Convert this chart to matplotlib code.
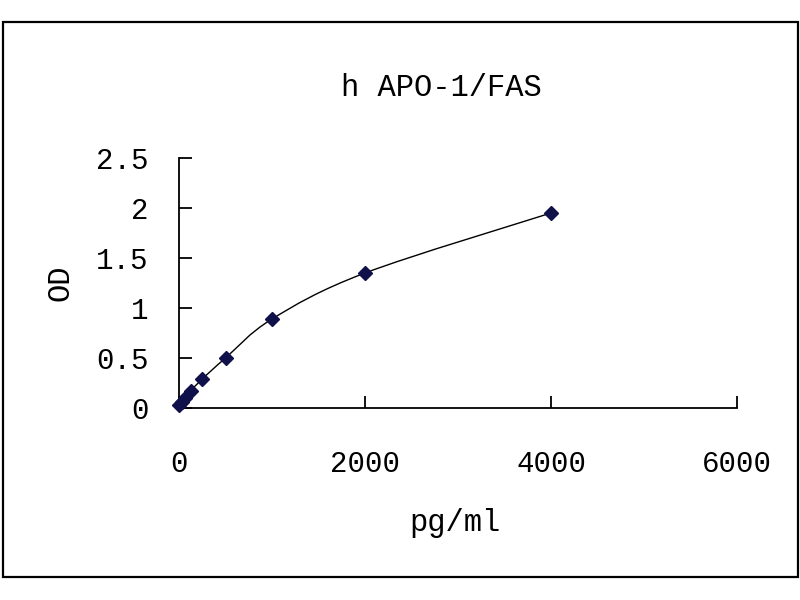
#!/usr/bin/env python3

import numpy as np
import matplotlib
matplotlib.use("Agg")
import matplotlib.pyplot as plt
from matplotlib.path import Path
from matplotlib.patches import PathPatch, Rectangle

# standard curve
conc = [0, 31.25, 62.5, 125, 250, 500, 1000, 2000, 4000]
od = [0.03, 0.06, 0.10, 0.17, 0.29, 0.50, 0.89, 1.35, 1.95]

x_ticks = [0, 2000, 4000, 6000]
y_ticks = [0, 0.5, 1, 1.5, 2, 2.5]
y_labels = ["0", "0.5", "1", "1.5", "2", "2.5"]

title = "h APO-1/FAS"
x_label = "pg/ml"
y_label = "OD"

FONT = "Liberation Mono"
plt.rcParams["font.family"] = [FONT, "DejaVu Sans Mono"]


def smooth_path(xs, ys, ax):
    # Excel-like smoothed line: Catmull-Rom tangents as cubic Bezier segments,
    # computed in display space so the curve looks the same as on screen
    pts = ax.transData.transform(np.column_stack([xs, ys]))
    n = len(pts)
    verts = [pts[0]]
    codes = [Path.MOVETO]
    t = 1.0 / 6.0
    for i in range(n - 1):
        p0 = pts[i - 1] if i > 0 else pts[i]
        p1 = pts[i]
        p2 = pts[i + 1]
        p3 = pts[i + 2] if i + 2 < n else pts[i + 1]
        c1 = p1 + (p2 - p0) * t
        c2 = p2 - (p3 - p1) * t
        verts += [c1, c2, p2]
        codes += [Path.CURVE4] * 3
    verts = ax.transData.inverted().transform(np.array(verts))
    return Path(verts, codes)


fig = plt.figure(figsize=(8, 6), dpi=100)
ax = fig.add_axes([179 / 800, 1 - 408 / 600, (737 - 179) / 800, (408 - 158) / 600])

ax.set_xlim(0, 6000)
ax.set_ylim(0, 2.5)
for side in ("top", "right"):
    ax.spines[side].set_visible(False)
for side in ("left", "bottom"):
    ax.spines[side].set_linewidth(1.3)
    ax.spines[side].set_color("black")

ax.set_xticks(x_ticks)
ax.set_xticklabels([str(v) for v in x_ticks])
ax.set_yticks(y_ticks)
ax.set_yticklabels(y_labels)
ax.tick_params(axis="both", direction="in", length=9, width=1.3, labelsize=21, colors="black")
ax.tick_params(axis="x", pad=30)
ax.tick_params(axis="y", pad=22)

patch = PathPatch(smooth_path(conc, od, ax), facecolor="none", edgecolor="black",
                  linewidth=1.0, zorder=2, clip_on=False)
ax.add_patch(patch)
ax.plot(conc, od, linestyle="none", marker="D", markersize=7,
        markerfacecolor="#10104a", markeredgecolor="#10104a", zorder=3, clip_on=False)

fig.text(441 / 800, 1 - 88 / 600, title, ha="center", va="center", fontsize=22)
fig.text(455 / 800, 1 - 523 / 600, x_label, ha="center", va="center", fontsize=22)
fig.text(60 / 800, 1 - 283 / 600, y_label, ha="center", va="center", fontsize=22, rotation=90)

# chart area border
fig.patches.append(Rectangle((3 / 800, 1 - 577 / 600), 795 / 800, 555 / 600,
                             transform=fig.transFigure, fill=False,
                             edgecolor="black", linewidth=1.6))

fig.savefig("out.png", dpi=100, facecolor="white")
